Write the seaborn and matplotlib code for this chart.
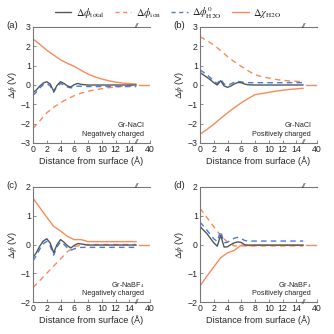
import numpy as np
import pandas as pd
import matplotlib
matplotlib.use("Agg")
import matplotlib.pyplot as plt
from matplotlib.lines import Line2D
import seaborn as sns

sns.set_style("ticks")
plt.rcParams['font.family'] = ['Liberation Sans', 'DejaVu Sans']
plt.rcParams['mathtext.fontset'] = 'stix'

# ---------------- data ----------------
x_wave = [0, 0.5, 1, 1.5, 2, 2.5, 3, 3.5, 4, 4.5, 5, 5.5, 6, 6.5, 7, 8, 9, 10, 11, 12, 13, 14, 15]
x_smooth = [0, 1, 2, 3, 4, 5, 6, 7, 8, 9, 10, 11, 12, 13, 14, 15]
x_tail = [20, 40]
tail_val = [0, 0]

a_total = [-0.40, -0.25, -0.05, 0.10, 0.17, 0.05, -0.32, -0.02, 0.17, 0.08, -0.05, -0.10, 0.02, 0.08, 0.03,
           0.0, 0.0, 0.0, 0.0, 0.0, 0.0, 0.0, 0.0]
a_water = [-0.53, -0.37, -0.15, 0.02, 0.08, -0.05, -0.38, -0.08, 0.08, 0.0, -0.10, -0.15, -0.10, -0.06, -0.07,
           -0.08, -0.08, -0.08, -0.08, -0.08, -0.08, -0.08, -0.08]
a_ion = [-2.25, -1.85, -1.44, -1.15, -0.92, -0.72, -0.55, -0.42, -0.32, -0.25, -0.19, -0.14, -0.10, -0.07, -0.04, -0.03]
a_chi = [2.38, 2.10, 1.80, 1.55, 1.30, 1.12, 0.96, 0.76, 0.56, 0.42, 0.31, 0.22, 0.15, 0.10, 0.07, 0.05]

b_total = [0.65, 0.52, 0.40, 0.27, 0.12, 0.0, 0.22, -0.05, -0.12, -0.05, 0.06, 0.13, 0.12, 0.05, 0.01,
           0.0, 0.0, 0.0, 0.0, 0.0, 0.0, 0.0, 0.0]
b_water = [0.78, 0.66, 0.53, 0.38, 0.20, 0.08, 0.30, 0.05, -0.02, 0.06, 0.15, 0.19, 0.16, 0.13, 0.12,
           0.12, 0.12, 0.12, 0.12, 0.12, 0.12, 0.12, 0.12]
b_ion = [2.50, 2.30, 2.07, 1.78, 1.47, 1.20, 0.96, 0.73, 0.53, 0.43, 0.36, 0.29, 0.24, 0.21, 0.19, 0.17]
b_chi = [-2.55, -2.30, -2.03, -1.73, -1.44, -1.17, -0.92, -0.70, -0.50, -0.44, -0.38, -0.32, -0.27, -0.23, -0.20, -0.17]

c_total = [-0.46, -0.28, -0.05, 0.12, 0.20, 0.05, -0.29, 0.0, 0.17, 0.08, -0.04, -0.12, -0.03, 0.03, 0.02,
           -0.02, -0.02, -0.02, -0.02, -0.02, -0.02, -0.02, -0.02]
c_water = [-0.57, -0.38, -0.15, 0.03, 0.11, -0.05, -0.37, -0.08, 0.09, 0.0, -0.12, -0.20, -0.15, -0.12, -0.10,
           -0.10, -0.10, -0.10, -0.10, -0.10, -0.10, -0.10, -0.10]
c_ion = [-1.50, -1.25, -1.00, -0.75, -0.50, -0.25, -0.08, -0.02, 0.0, 0.0, 0.0, 0.0, 0.0, 0.0, 0.0, 0.0]
c_chi = [1.61, 1.28, 0.95, 0.63, 0.47, 0.28, 0.17, 0.17, 0.10, 0.10, 0.10, 0.10, 0.10, 0.10, 0.10, 0.10]

d_total = [0.63, 0.50, 0.38, 0.22, 0.06, -0.06, 0.32, -0.09, -0.08, 0.0, 0.06, 0.09, 0.07, -0.01, -0.02,
           -0.02, -0.02, -0.02, -0.02, -0.02, -0.02, -0.02, -0.02]
d_water = [0.78, 0.64, 0.50, 0.35, 0.20, 0.11, 0.46, 0.06, 0.08, 0.15, 0.22, 0.25, 0.20, 0.14, 0.12,
           0.12, 0.12, 0.12, 0.12, 0.12, 0.12, 0.12, 0.12]
d_ion = [1.26, 0.94, 0.62, 0.30, 0.09, -0.05, -0.05, -0.05, -0.05, -0.05, -0.05, -0.05, -0.05, -0.05, -0.05, -0.05]
d_chi = [-1.44, -1.10, -0.78, -0.46, -0.29, -0.20, -0.02, -0.04, -0.03, -0.03, -0.03, -0.03, -0.03, -0.03, -0.03, -0.03]

panels = [
    ("(a)", a_total, a_water, a_ion, a_chi, "Gr-NaCl", "Negatively charged", 3),
    ("(b)", b_total, b_water, b_ion, b_chi, "Gr-NaCl", "Positively charged", 3),
    ("(c)", c_total, c_water, c_ion, c_chi, "Gr-NaBF$_4$", "Negatively charged", 2),
    ("(d)", d_total, d_water, d_ion, d_chi, "Gr-NaBF$_4$", "Positively charged", 2),
]

x_ticks = [0, 2, 4, 6, 8, 10, 12, 14, 40]
x_ticklabels = ["0", "2", "4", "6", "8", "10", "12", "14", "40"]
legend_labels = [r'$\Delta\phi_{\rm total}$', r'$\Delta\phi_{\rm ion}$',
                 r'$\Delta\phi^{0}_{\rm H2O}$', r'$\Delta\chi_{\rm H2O}$']

# ---------------- style ----------------
C_GRAY = '#505858'
C_ORANGE = '#f98a58'
C_BLUE = '#4a78e6'
SPINE = '#777777'


def fwd(x):
    x = np.asarray(x, dtype=float)
    return np.where(x <= 15, x, 15 + (x - 15) * 2.0 / 25.0)


def inv(y):
    y = np.asarray(y, dtype=float)
    return np.where(y <= 15, y, 15 + (y - 15) * 25.0 / 2.0)


fig = plt.figure(figsize=(3.34, 3.34), dpi=100)
W = H = 334.0
rects = [(33, 27, 150, 143), (200, 27, 317, 143), (33, 187, 150, 302), (200, 187, 317, 302)]

for (lab, tot, wat, ion, chi, t1, t2, ylim), (l, t, r, b) in zip(panels, rects):
    ax = fig.add_axes([l / W, 1 - b / H, (r - l) / W, (b - t) / H])
    ax.set_xscale('function', functions=(fwd, inv))
    lw = 1.0
    sns.lineplot(x=x_smooth, y=chi, ax=ax, color=C_ORANGE, lw=lw, estimator=None)
    sns.lineplot(x=x_tail, y=tail_val, ax=ax, color=C_ORANGE, lw=lw, estimator=None)
    sns.lineplot(x=x_smooth, y=ion, ax=ax, color=C_ORANGE, lw=lw, estimator=None, linestyle=(0, (4, 3)))
    sns.lineplot(x=x_wave, y=wat, ax=ax, color=C_BLUE, lw=lw, estimator=None, linestyle=(0, (4, 3)))
    sns.lineplot(x=x_wave, y=tot, ax=ax, color=C_GRAY, lw=lw, estimator=None)

    ax.set_xlim(0, 40)
    ax.set_ylim(-ylim, ylim)
    ax.set_xticks(x_ticks)
    ax.set_xticklabels(x_ticklabels)
    ax.set_yticks(range(-ylim, ylim + 1))
    ax.xaxis.set_minor_locator(matplotlib.ticker.NullLocator())
    ax.tick_params(axis='both', direction='in', length=2.5, width=0.6, color=SPINE,
                   labelsize=6.3, pad=1.5)
    ax.tick_params(axis='x', top=False)
    for s in ['left', 'bottom', 'top']:
        ax.spines[s].set_color(SPINE)
        ax.spines[s].set_linewidth(0.8)
    ax.spines['right'].set_visible(False)
    ax.set_xlabel('Distance from surface (Å)', fontsize=6.6, labelpad=1.5)
    ax.set_ylabel(r'$\Delta\phi$ (V)', fontsize=6.6, labelpad=1)
    ax.text(15, 1.0, '//', transform=ax.get_xaxis_transform(), ha='center', va='center',
            fontsize=5, color='#333333', style='italic')
    ax.text(15, 0.0, '//', transform=ax.get_xaxis_transform(), ha='center', va='center',
            fontsize=5, color='#333333', style='italic')
    ax.text(0.95, 0.15, t1, transform=ax.transAxes, ha='right', va='center', fontsize=5.2)
    ax.text(0.95, 0.07, t2, transform=ax.transAxes, ha='right', va='center', fontsize=5.2)
    fig.text((l - 27) / W, 1 - (t - 1) / H, lab, ha='left', va='center', fontsize=6.8)

handles = [Line2D([], [], color=C_GRAY, lw=1.0),
           Line2D([], [], color=C_ORANGE, lw=1.0, linestyle=(0, (3, 2.5))),
           Line2D([], [], color=C_BLUE, lw=1.0, linestyle=(0, (3, 2.5))),
           Line2D([], [], color=C_ORANGE, lw=1.0)]
fig.legend(handles, legend_labels, loc='center', bbox_to_anchor=(168 / W, 1 - 13 / H), ncol=4,
           frameon=False, fontsize=7.5, handlelength=1.6, handletextpad=0.4, columnspacing=1.0)

fig.savefig('out.png', dpi=100)
